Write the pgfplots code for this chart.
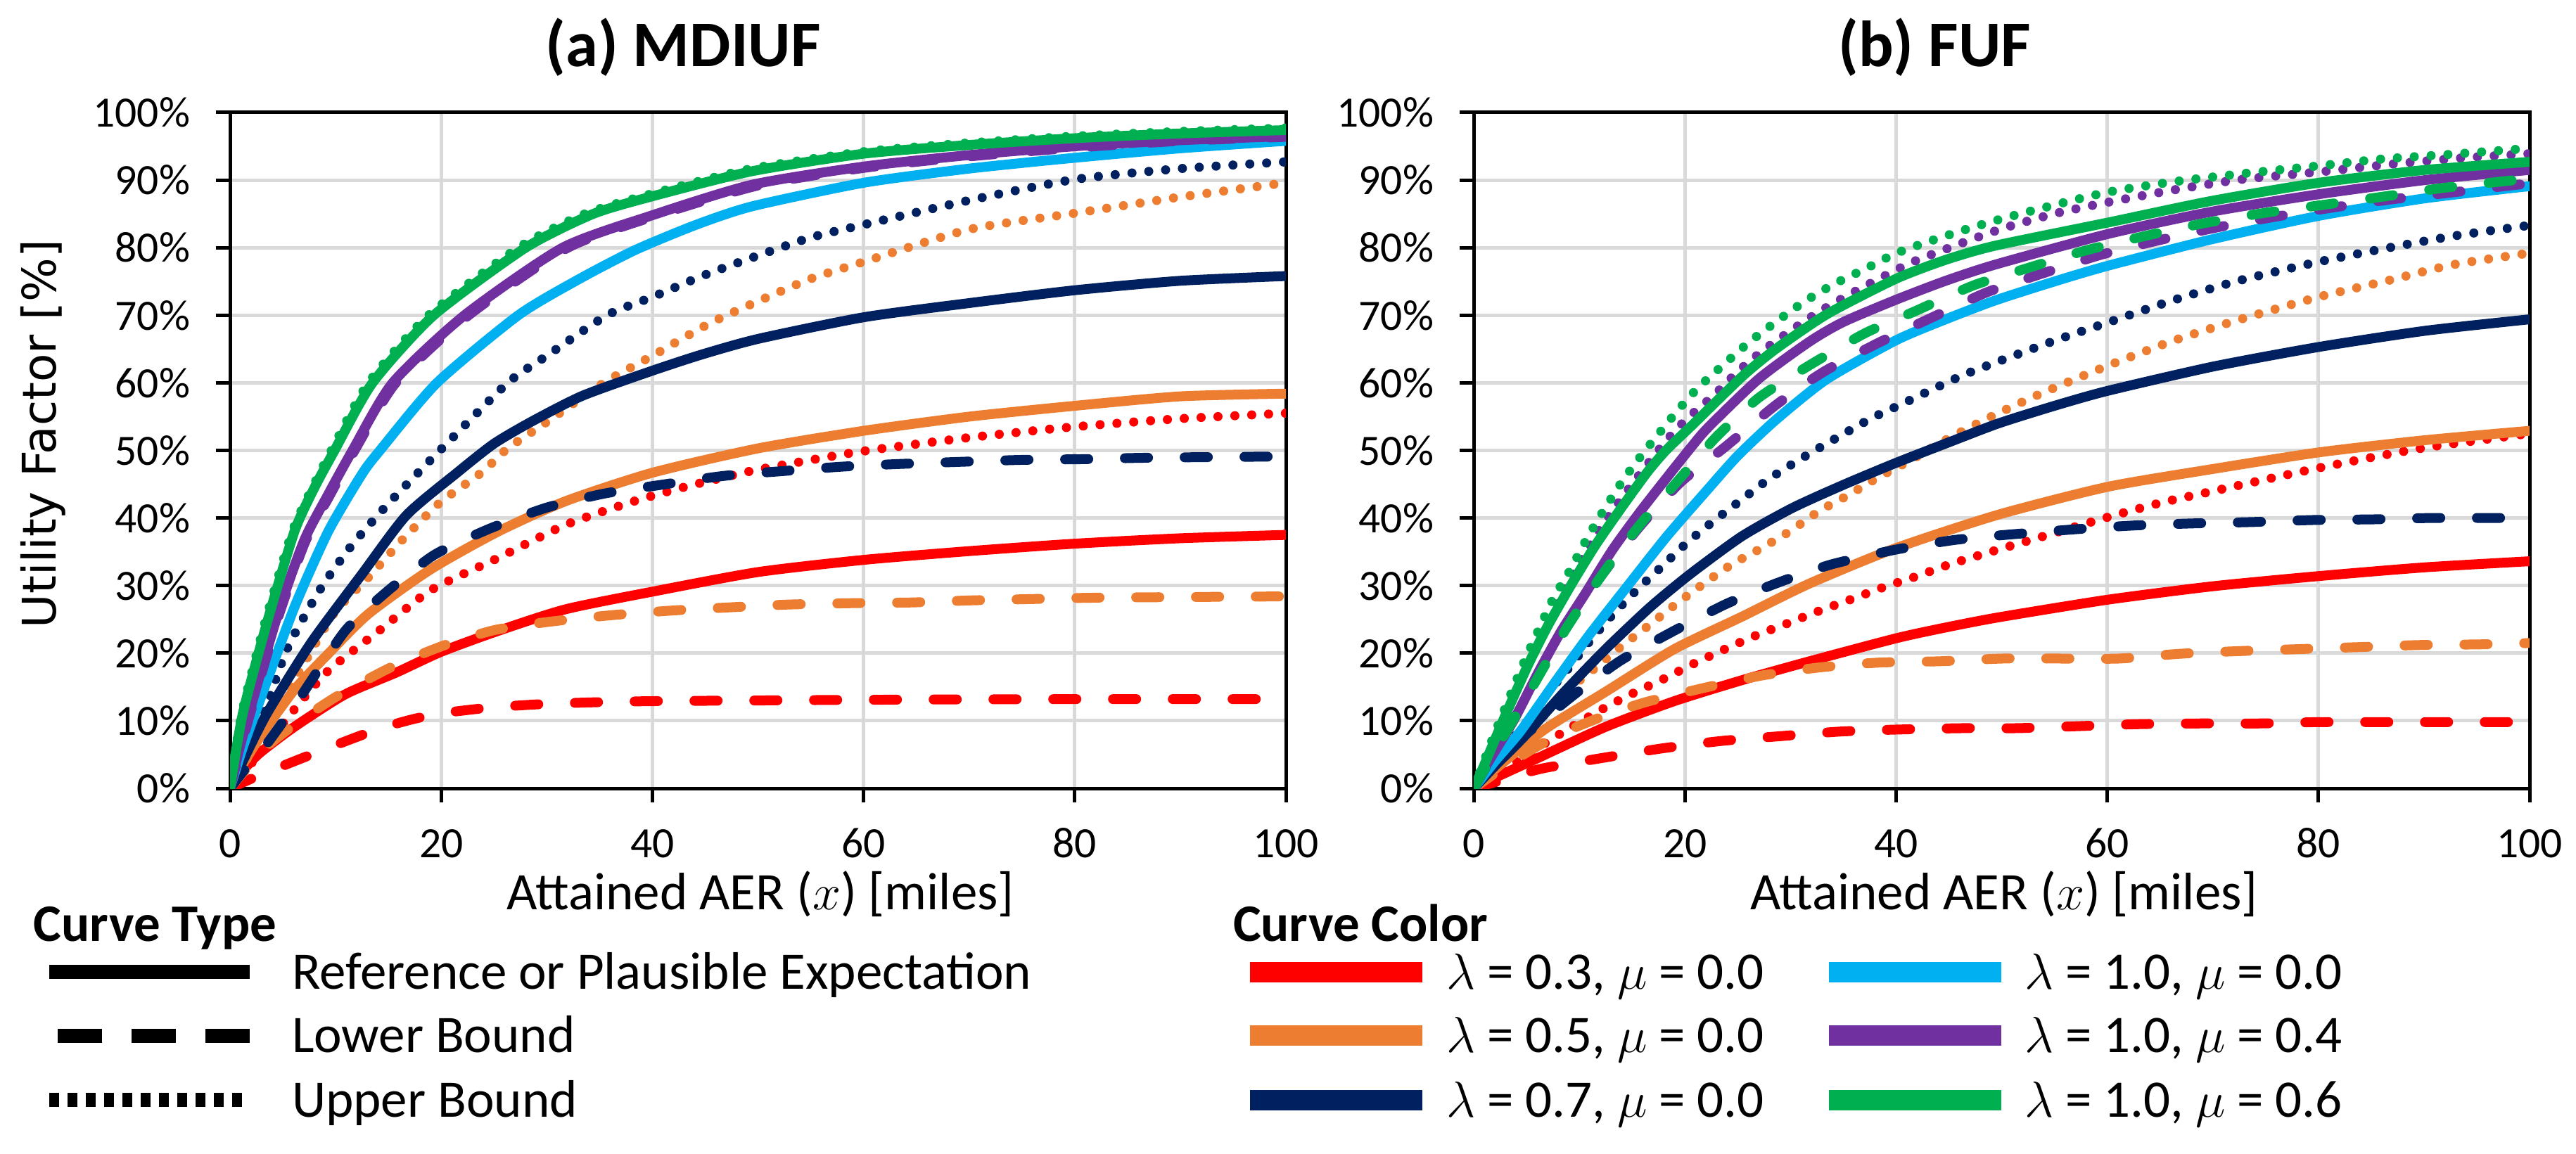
\documentclass[border=0pt]{standalone}
\usepackage{fontspec}
\setmainfont{Carlito}
\newfontfamily\dejavu{DejaVu Sans}
\usepackage{pgfplots}
\pgfplotsset{compat=1.18}
\definecolor{cred}{HTML}{FF0000}
\definecolor{corange}{HTML}{ED7D31}
\definecolor{cnavy}{HTML}{002060}
\definecolor{cblue}{HTML}{00B0F0}
\definecolor{cpurple}{HTML}{7030A0}
\definecolor{cgreen}{HTML}{00B050}
\definecolor{cgrid}{HTML}{D9D9D9}
\tikzset{
  sol/.style={line width=2.8pt, line join=round, line cap=round},
  dsh/.style={line width=2.8pt, line join=round, line cap=round, dash pattern=on 6.6pt off 10.4pt},
  dot/.style={line width=2.6pt, line join=round, line cap=round, dash pattern=on 0pt off 4.8pt},
}
\pgfplotsset{
  ufstyle/.style={
    width=300.2pt, height=192.2pt, scale only axis,
    xmin=0, xmax=100, ymin=0, ymax=100,
    xtick={0,20,...,100}, ytick={0,10,...,100},
    grid=major, major grid style={color=cgrid, line width=1pt},
    axis line style={black, line width=1pt},
    tick align=outside, tick pos=left, major tick length=4pt,
    tick style={black, line width=1pt},
    /pgf/number format/assume math mode=true,
    yticklabel={\pgfmathprintnumber{\tick}\%},
    tick label style={font=\fontsize{12.3}{14}\selectfont},
    xticklabel style={anchor=base, yshift=-15.6pt},
    yticklabel style={anchor=east, inner sep=0pt, xshift=-7.2pt},
    every axis plot/.append style={smooth, tension=0.4},
  }
}
\begin{document}
\begin{tikzpicture}
\path[use as bounding box] (0pt,0pt) rectangle (732.4pt,-328.2pt);

% ---------------- (a) MDIUF ----------------
\begin{axis}[ufstyle, at={(65.4pt,-224.2pt)}, anchor=south west]
% red
\addplot[cred, dsh] coordinates {(0,0) (2,1.4) (6.4,4.2) (11.5,7.3) (14.5,9) (17.5,10.3) (20.5,11.2) (25,12) (30,12.5) (35,12.75) (40,12.9) (50,13) (60,13.1) (80,13.2) (100,13.2)};
\addplot[cred, sol] coordinates {(0,0) (1.2,2.6) (2.8,5.2) (6.1,9.1) (10.9,13.9) (15.7,17.1) (20,20.2) (25.4,23.3) (31.8,26.5) (40,29.1) (50,32) (60,33.8) (70,35.1) (80,36.2) (90,37) (100,37.5)};
\addplot[cred, dot] coordinates {(0,0) (3,5.5) (6,11.5) (9.3,17.4) (14.1,23.3) (19,29.3) (25.4,34.1) (31.8,39) (38.3,42.5) (43.1,44.6) (49.2,46.9) (54,48.3) (60,49.9) (70,51.9) (80,53.5) (90,54.7) (100,55.5)};
% orange
\addplot[corange, dsh] coordinates {(0,0) (3,5.5) (6,9.3) (10,13.5) (15.1,17.8) (20,21) (25,23.4) (30,24.6) (36,25.6) (41.8,26.3) (47.6,26.8) (53,27.2) (59,27.4) (64.5,27.5) (70,27.8) (75.7,28) (81.6,28.2) (90,28.3) (100,28.4)};
\addplot[corange, sol] coordinates {(0,0) (1.2,3.5) (2.8,7.5) (6.1,14.6) (9.3,19.9) (13.1,25.8) (19,32.4) (25.4,38) (31.8,42.5) (40,46.7) (50,50.3) (60,52.9) (70,55) (80,56.6) (90,58) (100,58.4)};
\addplot[corange, dot] coordinates {(0,0) (2.8,7.5) (6.1,16) (9.8,25.8) (13.1,31.2) (16.4,36.9) (19.9,42.3) (23.8,46.7) (26.3,50.3) (30,54.2) (35.4,60) (40,64) (45.3,68.7) (49.9,72) (55,75.4) (60,77.9) (70,82.7) (80,85.1) (90,87.5) (100,89.6)};
% navy
\addplot[cnavy, dsh] coordinates {(0,0) (1.5,3) (3.5,6.6) (6.7,13.6) (10.9,23.3) (14.7,28.9) (19.3,34.5) (24.4,38.3) (29.9,41.5) (35.4,43.6) (40.8,44.9) (46.6,46.2) (52,46.9) (58,47.6) (63.5,48) (69,48.3) (75,48.6) (80.6,48.7) (86.2,48.9) (92,49) (100,49.1)};
\addplot[cnavy, sol] coordinates {(0,0) (1.2,4) (3.5,11.1) (7.7,21.6) (12.5,31.7) (16.7,40.4) (21.5,46.7) (25,51) (28.6,54.3) (33.4,58.1) (40,61.8) (44.7,64.2) (50,66.5) (60,69.7) (70,71.8) (80,73.7) (90,75.1) (100,75.8)};
\addplot[cnavy, dot] coordinates {(0,0) (2.8,9.4) (5.4,20.6) (8.6,29.6) (11.5,35.9) (14.8,41.8) (18,47) (20.2,50.5) (26.3,60) (30,64) (35.7,70) (40,72.7) (44.7,75.8) (49.4,78.5) (55,81.5) (60,83.4) (70,87) (80,90.1) (90,91.7) (100,92.7)};
% light blue
\addplot[cblue, sol] coordinates {(0,0) (1.2,6) (2.8,12.9) (6.1,26.8) (9.3,38) (12.5,46.5) (14.2,50) (19.6,60) (27.3,70) (33,75.3) (38.3,79.6) (44,83.3) (49.4,86.1) (60,89.6) (70,91.7) (80,93.3) (90,94.7) (100,95.8)};
% purple
\addplot[cpurple, sol] coordinates {(0,0) (1.2,7.7) (4.4,25.1) (7,36.6) (9.3,43.5) (11.6,50) (15.4,60) (22.2,70) (31.5,80) (40,84.8) (49.4,89.3) (60,92) (70,93.7) (80,95) (90,95.9) (100,96.5)};
\addplot[cpurple, dsh] coordinates {(0,0) (1.3,7.7) (4.5,25) (7.1,36.4) (9.5,43.5) (11.8,50) (15.7,60) (22.6,70) (32,80) (40.5,84.8) (50,89.2) (60,91.8) (70,93.5) (80,94.8) (90,95.8) (100,96.4)};
% green
\addplot[cgreen, sol] coordinates {(0,0) (1.2,11) (3.5,24.5) (6.1,38) (8,44.5) (9.9,50) (13.5,60) (19.3,70) (28,80) (34.4,85) (40,87.6) (49.4,91.3) (60,93.9) (70,95.2) (80,96.2) (90,96.9) (100,97.4)};
\addplot[cgreen, dot] coordinates {(0,0) (1.1,11) (3.3,24.5) (5.9,38) (7.8,44.5) (9.6,50) (13.1,60) (18.8,70) (27.3,80) (33.6,85) (40,88) (49.4,91.7) (60,94.2) (70,95.5) (80,96.5) (90,97.2) (100,97.7)};
\end{axis}

% ---------------- (b) FUF ----------------
\begin{axis}[ufstyle, at={(419pt,-224.2pt)}, anchor=south west]
% red
\addplot[cred, dsh] coordinates {(0,0) (2,0.9) (4,1.9) (6.7,3) (12.2,4.5) (17.8,5.9) (23.4,7) (28.9,7.7) (34.7,8.4) (40.2,8.7) (46.3,8.9) (51.4,8.9) (57.3,9.2) (63.1,9.5) (68.8,9.6) (74.4,9.6) (80.1,9.8) (85.9,9.8) (91.5,9.8) (100,9.8)};
\addplot[cred, sol] coordinates {(0,0) (2.2,1.7) (6.1,4.5) (12.5,9.1) (19,12.9) (25.4,16) (31.8,18.8) (40,22.2) (44.7,23.8) (49.7,25.3) (60,27.9) (70,29.9) (80,31.4) (90.1,32.7) (100,33.6)};
\addplot[cred, dot] coordinates {(0,0) (3,2.8) (6.7,6.6) (9.6,9.4) (12.5,12) (15,14) (18,16.2) (20.9,18.5) (23.8,20.6) (26.7,22.6) (29.7,24.4) (32.8,26.3) (35.8,28) (38.9,29.8) (42,31.4) (45,33.1) (49.4,35.2) (54.4,37.5) (60,40.1) (65.2,42.3) (69.8,43.9) (74.7,45.6) (80,47.4) (85.5,49.1) (90.5,50.5) (100,52.5)};
% orange
\addplot[corange, dsh] coordinates {(0,0) (3,3.3) (6,6.2) (9,8.6) (12.5,10.8) (16.4,12.8) (22.2,15) (27.3,16.7) (32.8,17.9) (38.3,18.6) (44.1,18.8) (50.1,19.2) (55.3,19.2) (61.1,19.2) (66.8,19.9) (72.4,20.3) (78.2,20.6) (83.9,20.9) (89.5,21.2) (95.2,21.3) (100,21.5)};
\addplot[corange, sol] coordinates {(0,0) (2,2.8) (6.7,8.7) (12.5,14.3) (19,20.6) (25.4,25.4) (31.8,30.3) (39.9,35.5) (49.7,40.5) (60,44.6) (69.8,47.2) (80,49.7) (90,51.5) (100,52.9)};
\addplot[corange, dot] coordinates {(0,0) (3,4.8) (6,9.7) (9,14.6) (11.5,17.8) (13.9,20.9) (16.5,24) (19.1,27.2) (21.8,30.3) (24.4,33.1) (27.2,35.5) (29.9,38) (32.8,41.1) (35.5,43.4) (38.3,46) (41.2,48.4) (45,51.8) (49.4,55.3) (54,58.6) (60,62.5) (66.2,66.2) (72.4,69.3) (80,72.7) (86.5,75.1) (92.8,77.5) (100,79.2)};
% navy
\addplot[cnavy, dsh] coordinates {(0,0) (2,3.5) (4.5,7.4) (9.3,13.6) (13.8,18.8) (18.6,23) (23.8,27.2) (28.6,30.3) (33.8,33.1) (39.9,35.3) (45.3,36.7) (49.6,37.4) (56.7,38.3) (62.6,38.9) (68.1,39.2) (73.7,39.4) (79.5,39.7) (85.2,39.8) (90.8,40) (100,40)};
\addplot[cnavy, sol] coordinates {(0,0) (2,3.3) (4.8,7.7) (8.6,14.3) (12.5,20.6) (16.7,26.8) (20.5,31.7) (25.4,37.3) (30.2,41.5) (35,44.9) (39.9,48.1) (45,51.2) (49.7,54) (55,56.6) (60,58.8) (70,62.4) (80,65.3) (90.1,67.7) (100,69.4)};
\addplot[cnavy, dot] coordinates {(0,0) (2.5,5) (5,9.8) (6.9,13.9) (9,17.8) (11,21.8) (13.1,25.6) (15.4,29.3) (17.8,32.8) (20.1,36.2) (22.6,39.4) (25.2,42.5) (27.8,45.6) (30.5,48.3) (33.3,50.9) (37.6,54.7) (40.6,56.9) (43.4,59) (46.3,61.1) (49.4,63) (55.3,66.4) (60,68.9) (66.2,72.2) (72.4,75.1) (80,77.9) (86.7,80) (93.1,81.8) (100,83.3)};
% light blue
\addplot[cblue, sol] coordinates {(0,0) (2,4) (4.4,8.4) (7.7,15.7) (10.9,22.6) (14.4,29.6) (18.3,37.3) (22.2,44.3) (25,49.2) (28.6,54.5) (33.4,60.5) (40,66.3) (44.7,69.4) (49.4,72.2) (55,75) (60,77.3) (69.8,81.2) (80,84.7) (90.1,87.3) (100,89.1)};
% purple
\addplot[cpurple, dsh] coordinates {(0,0) (4.1,11.1) (6.4,17.8) (9,24.7) (12.2,31.7) (15.7,38.7) (19.6,45.3) (23.8,50.5) (28.6,56.7) (33.1,61.6) (38.3,65.9) (43.3,69.6) (48.6,73.4) (53.7,76.1) (59.3,78.9) (64.9,81.1) (70.4,83) (76,84.6) (81.6,86) (87.2,87.2) (92.8,88.2) (98.7,89.3) (100,89.4)};
\addplot[cpurple, sol] coordinates {(0,0) (1.5,4.2) (3.8,10.1) (6.1,17.1) (8.3,23.3) (10.6,28.9) (13.1,35.2) (15.7,40.8) (18.3,46) (20.5,50.3) (22.2,53.4) (27,60.6) (31.8,66.1) (35,69) (40,72.3) (44.7,75.1) (49.4,77.5) (60,82) (69.8,85.3) (80,87.9) (90.1,90) (100,91.5)};
\addplot[cpurple, dot] coordinates {(0,0) (3,11) (6,21.5) (9,30.5) (12,38.5) (15,45) (18.1,51.2) (20.2,54.7) (22.7,58.1) (25.1,61.8) (27.5,64.9) (30.1,67.8) (32.8,70.6) (35.5,73) (38.4,75.4) (41.3,77.7) (44.4,79.6) (47.3,81.3) (50.4,83) (55.2,85.1) (60,86.7) (66.5,88.6) (72.7,90.1) (80,91.2) (87.2,92.4) (93.8,93.3) (100,93.9)};
% green
\addplot[cgreen, dsh] coordinates {(0,0) (2,5.5) (4,10.8) (6.3,17) (8.5,23) (11,29) (13.5,34.5) (16,39.5) (18.5,44) (21,48.5) (23.1,52.2) (27,57.8) (31.8,62.6) (37,67.3) (41.8,70.6) (47.3,74.4) (52.5,77) (58,79.6) (63.5,81.7) (69.1,83.6) (74.7,85.1) (80.3,86.3) (85.9,87.5) (91.6,88.8) (97.4,89.8) (100,90.2)};
\addplot[cgreen, sol] coordinates {(0,0) (0.9,3.1) (2.8,10.1) (5.1,18.1) (7,24) (9.3,30.3) (11.5,35.9) (13.8,41.1) (16.4,46.7) (18.2,50) (20.6,53.6) (25.4,60.9) (28.6,65) (33.5,70.2) (40,75.4) (44.7,78.2) (49.4,80.3) (60,83.7) (69.8,86.9) (80,89.6) (90.1,91.5) (100,92.7)};
\addplot[cgreen, dot] coordinates {(0,0) (1.7,7) (3.5,13.9) (4.8,18.8) (6.1,23.3) (7.5,28) (9.1,32.2) (10.7,36.9) (12.3,41.1) (14.1,45.5) (16,49.5) (19.1,55.5) (21.2,59.2) (23.6,62.6) (26,65.9) (28.6,69) (31.3,72) (34.1,74.6) (37,76.8) (39.9,79.1) (42.9,80.8) (46,82.4) (49.4,84) (53.7,85.8) (60,88.2) (66.5,89.8) (73.1,91) (80,92.1) (85.9,93.1) (92.4,93.8) (100,94.7)};
\end{axis}

% titles and labels
\node[anchor=base, font=\fontsize{18.5}{22}\selectfont\bfseries] at (194.2pt,-19pt) {(a) MDIUF};
\node[anchor=base, font=\fontsize{18.5}{22}\selectfont\bfseries] at (550pt,-19pt) {(b) FUF};
\node[rotate=90, font=\dejavu\fontsize{13.2}{16}\selectfont] at (12.2pt,-123.4pt) {Utility Factor [\%]};
\node[anchor=base, font=\fontsize{15}{18}\selectfont] at (216.2pt,-258.6pt) {Attained AER ($x$) [miles]};
\node[anchor=base, font=\fontsize{15}{18}\selectfont] at (569.8pt,-258.6pt) {Attained AER ($x$) [miles]};

% legend: curve type
\node[anchor=base west, inner sep=0pt, font=\fontsize{15}{18}\selectfont\bfseries] at (9.4pt,-267.6pt) {Curve Type};
\draw[line width=4pt] (14pt,-276.4pt) -- (71pt,-276.4pt);
\draw[line width=4pt, dash pattern=on 12.6pt off 8.4pt] (16.4pt,-294.5pt) -- (71pt,-294.5pt);
\draw[line width=4pt, dash pattern=on 2.8pt off 2.4pt] (14pt,-312.8pt) -- (71pt,-312.8pt);
\node[anchor=base west, inner sep=0pt, font=\fontsize{15}{18}\selectfont] at (82.8pt,-281.2pt) {Reference or Plausible Expectation};
\node[anchor=base west, inner sep=0pt, font=\fontsize{15}{18}\selectfont] at (82.8pt,-299.3pt) {Lower Bound};
\node[anchor=base west, inner sep=0pt, font=\fontsize{15}{18}\selectfont] at (82.8pt,-317.6pt) {Upper Bound};

% legend: curve color
\node[anchor=base west, inner sep=0pt, font=\fontsize{15}{18}\selectfont\bfseries] at (350.4pt,-267.6pt) {Curve Color};
\draw[cred, line width=5.8pt] (355.4pt,-276.4pt) -- (404.4pt,-276.4pt);
\draw[corange, line width=5.8pt] (355.4pt,-294.5pt) -- (404.4pt,-294.5pt);
\draw[cnavy, line width=5.8pt] (355.4pt,-312.8pt) -- (404.4pt,-312.8pt);
\draw[cblue, line width=5.8pt] (520pt,-276.4pt) -- (569pt,-276.4pt);
\draw[cpurple, line width=5.8pt] (520pt,-294.5pt) -- (569pt,-294.5pt);
\draw[cgreen, line width=5.8pt] (520pt,-312.8pt) -- (569pt,-312.8pt);
\node[anchor=base west, inner sep=0pt, font=\fontsize{15}{18}\selectfont] at (411pt,-281.2pt) {$\lambda$ = 0.3, $\mu$ = 0.0};
\node[anchor=base west, inner sep=0pt, font=\fontsize{15}{18}\selectfont] at (411pt,-299.3pt) {$\lambda$ = 0.5, $\mu$ = 0.0};
\node[anchor=base west, inner sep=0pt, font=\fontsize{15}{18}\selectfont] at (411pt,-317.6pt) {$\lambda$ = 0.7, $\mu$ = 0.0};
\node[anchor=base west, inner sep=0pt, font=\fontsize{15}{18}\selectfont] at (575.4pt,-281.2pt) {$\lambda$ = 1.0, $\mu$ = 0.0};
\node[anchor=base west, inner sep=0pt, font=\fontsize{15}{18}\selectfont] at (575.4pt,-299.3pt) {$\lambda$ = 1.0, $\mu$ = 0.4};
\node[anchor=base west, inner sep=0pt, font=\fontsize{15}{18}\selectfont] at (575.4pt,-317.6pt) {$\lambda$ = 1.0, $\mu$ = 0.6};
\end{tikzpicture}
\end{document}
